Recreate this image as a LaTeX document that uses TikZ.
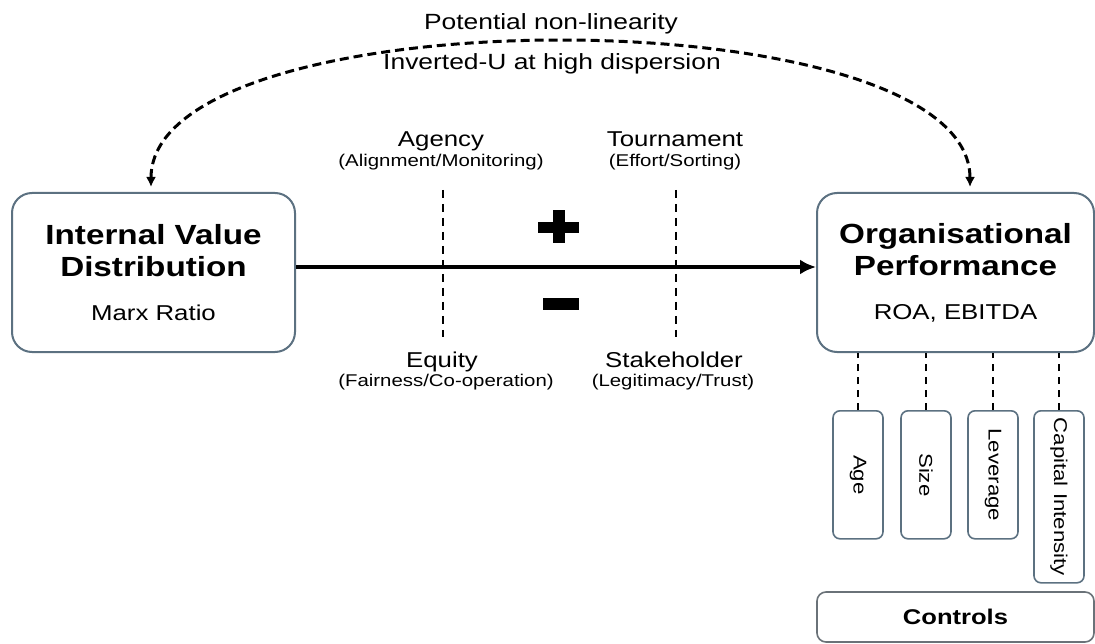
\documentclass[tikz,border=0pt]{standalone}
\usepackage{fontspec}
\setmainfont{Liberation Sans}[FakeStretch=1.2]
\usetikzlibrary{arrows.meta, positioning, calc}

\definecolor{boxline}{HTML}{5C7181}
\definecolor{ctrlline}{HTML}{6A7278}

\newcommand{\boxtitle}{\fontsize{27.7}{32}\selectfont\bfseries}
\newcommand{\boxsub}{\fontsize{21.5}{32}\selectfont\mdseries}

\begin{document}
\begin{tikzpicture}[
    x=1pt, y=-1pt,
    mainbox/.style={draw=boxline, line width=2pt, rounded corners=20pt,
                    minimum width=283pt, minimum height=159pt, inner sep=0pt,
                    align=center, font=\fontsize{21.5}{32}\selectfont},
    ctrlbox/.style={draw=boxline, line width=1.6pt, rounded corners=7pt,
                    rotate=-90, anchor=west, minimum height=50pt, inner sep=0pt,
                    font=\fontsize{18.5}{22}\selectfont},
    theory/.style={anchor=base, font=\fontsize{21.5}{26}\selectfont},
    mech/.style={anchor=base, font=\fontsize{17}{20}\selectfont},
    curvelab/.style={anchor=base, font=\fontsize{22}{26}\selectfont},
    link/.style={-{Latex[length=16pt,width=15pt]}, line width=4.5pt},
    divider/.style={dash pattern=on 8pt off 6pt, line width=2.2pt},
    ctrllink/.style={dash pattern=on 7pt off 6pt, line width=2.2pt},
    nonlin/.style={{Latex[length=10pt,width=10pt]}-{Latex[length=10pt,width=10pt]},
                   dash pattern=on 9pt off 5pt, line width=3pt}
  ]
    \useasboundingbox (0,0) rectangle (1095,644);

    % Main constructs
    \node[mainbox] (ivd) at (153.5,272.5)
      {\boxtitle Internal Value\\\boxtitle Distribution\\[12pt]\boxsub Marx Ratio};
    \node[mainbox, minimum width=277pt] (perf) at (955.5,272.5)
      {\boxtitle Organisational\\\boxtitle Performance\\[12pt]\boxsub ROA, EBITDA};

    % Direct effect
    \draw[link] ([yshift=5.5pt]ivd.east) -- ([yshift=5.5pt]perf.west);

    % Theory dividers
    \coordinate (agtop) at (443,190);
    \coordinate (agbot) at (443,337);
    \coordinate (tntop) at (676,190);
    \coordinate (tnbot) at (676,337);
    \draw[divider] (agtop) -- (agbot);
    \draw[divider] (tntop) -- (tnbot);

    % Plus and minus signs
    \fill (538,222) rectangle (579,233);
    \fill (553,210) rectangle (565,243);
    \fill (543,298) rectangle (579,310);

    % Theory labels
    \node[theory] (agency) at (441,147) {Agency};
    \node[mech]   (agmech) at (441,167) {(Alignment/Monitoring)};
    \node[theory] (tourn)  at (675,147) {Tournament};
    \node[mech]   (tnmech) at (675,167) {(Effort/Sorting)};
    \node[theory] (equity) at (442,367) {Equity};
    \node[mech]   (eqmech) at (446,386) {(Fairness/Co-operation)};
    \node[theory] (stake)  at (674,367) {Stakeholder};
    \node[mech]   (stmech) at (673,386) {(Legitimacy/Trust)};

    % Non-linear link
    \coordinate (nlL) at (151,187);
    \coordinate (nlR) at (970,187);
    \draw[nonlin] (nlL) .. controls (151,-6) and (970,-6) .. (nlR);
    \node[curvelab] (potential) at (551,30) {Potential non-linearity};
    \node[curvelab] (invu)      at (552,70) {Inverted-U at high dispersion};

    % Control variables
    \node[ctrlbox, minimum width=128pt] (age)  at (858,410)  {Age};
    \node[ctrlbox, minimum width=128pt] (size) at (926,410)  {Size};
    \node[ctrlbox, minimum width=128pt] (lev)  at (993,410)  {Leverage};
    \node[ctrlbox, minimum width=172pt] (cap)  at (1059,410) {Capital Intensity};
    \foreach \c in {age, size, lev, cap}
      \draw[ctrllink] (\c.west) -- (\c.west |- perf.south);

    \node[draw=ctrlline, line width=1.6pt, rounded corners=9pt,
          minimum width=277pt, minimum height=50pt, inner sep=0pt,
          font=\fontsize{21.3}{26}\selectfont\bfseries] (controls) at (955.5,617) {Controls};
  \end{tikzpicture}
\end{document}
